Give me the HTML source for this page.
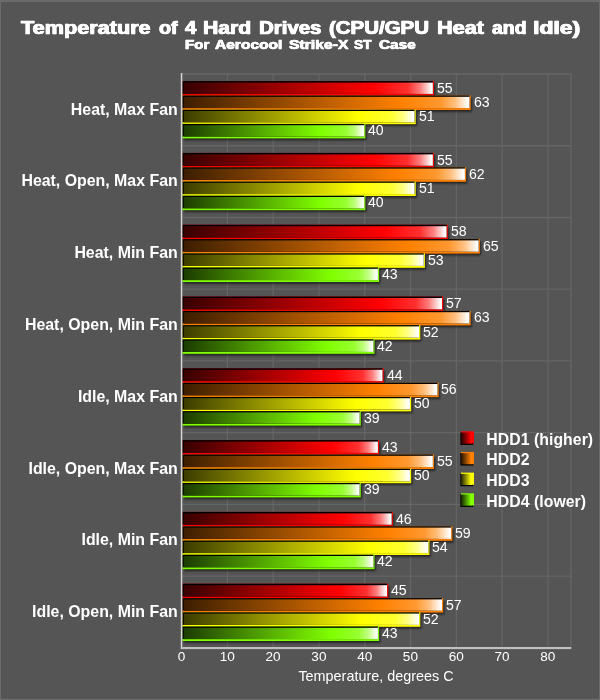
<!DOCTYPE html>
<html><head><meta charset="utf-8"><title>Temperature of 4 Hard Drives</title>
<style>
html,body{margin:0;padding:0}
body{width:600px;height:700px;overflow:hidden;background:#555;font-family:"Liberation Sans",sans-serif;color:#fff}
#c{position:relative;width:600px;height:700px;background:#555;overflow:hidden}
#c div,#c span,#c svg{position:absolute}
svg{left:0;top:0}
.w1,.w2{font-weight:bold;white-space:nowrap;transform-origin:0 0}
.w1{top:19.4px;font-size:18.6px;line-height:18.6px;-webkit-text-stroke:.6px #fff;text-shadow:.45px 0 0 #fff,-.45px 0 0 #fff}
.w2{top:38.6px;font-size:12px;line-height:12px;-webkit-text-stroke:.4px #fff;text-shadow:.3px 0 0 #fff,-.3px 0 0 #fff}
.cat{right:422.3px;width:200px;text-align:right;font-weight:bold;font-size:15.9px;line-height:18px;height:18px;white-space:nowrap}
.val{font-size:13.5px;line-height:16px;height:16px;white-space:nowrap;transform-origin:0 50%;transform:scale(1.045,1.06)}
.tk{font-size:13.6px;line-height:16px;height:16px;width:40px;text-align:center;top:649.2px}
.xt{left:226px;width:300px;text-align:center;top:667px;font-size:14.4px;line-height:18px;height:18px}
.lg{left:486.3px;letter-spacing:.05px;font-weight:bold;font-size:15.8px;line-height:18px;height:18px;white-space:nowrap}
</style></head><body><div id="c">
<svg width="600" height="700" viewBox="0 0 600 700">
<defs>
<linearGradient id="gr"><stop offset="0" stop-color="#380000"/><stop offset=".76" stop-color="#f00"/><stop offset=".90" stop-color="#ff3030"/><stop offset=".95" stop-color="#ff8080"/><stop offset=".995" stop-color="#fff"/></linearGradient>
<linearGradient id="go"><stop offset="0" stop-color="#3c1e00"/><stop offset=".76" stop-color="#ff8000"/><stop offset=".90" stop-color="#ff9830"/><stop offset=".95" stop-color="#ffc080"/><stop offset=".995" stop-color="#fff"/></linearGradient>
<linearGradient id="gy"><stop offset="0" stop-color="#3c3c00"/><stop offset=".76" stop-color="#ff0"/><stop offset=".90" stop-color="#ffff30"/><stop offset=".95" stop-color="#ffff80"/><stop offset=".995" stop-color="#fff"/></linearGradient>
<linearGradient id="gg"><stop offset="0" stop-color="#1c3c00"/><stop offset=".76" stop-color="#80ff00"/><stop offset=".90" stop-color="#98ff30"/><stop offset=".95" stop-color="#c0ff80"/><stop offset=".995" stop-color="#fff"/></linearGradient>
<linearGradient id="lr"><stop offset="0" stop-color="#200000"/><stop offset=".9" stop-color="#f00"/><stop offset="1" stop-color="#ff1818"/></linearGradient>
<linearGradient id="lo"><stop offset="0" stop-color="#201000"/><stop offset=".9" stop-color="#ff8000"/><stop offset="1" stop-color="#ff8c18"/></linearGradient>
<linearGradient id="ly"><stop offset="0" stop-color="#202000"/><stop offset=".9" stop-color="#ff0"/><stop offset="1" stop-color="#ffff18"/></linearGradient>
<linearGradient id="lg"><stop offset="0" stop-color="#102000"/><stop offset=".9" stop-color="#80ff00"/><stop offset="1" stop-color="#8cff18"/></linearGradient>
<filter id="sh2" x="-20%" y="-20%" width="140%" height="140%"><feGaussianBlur stdDeviation=".5"/></filter>
<filter id="sh" x="-5%" y="-30%" width="110%" height="160%"><feGaussianBlur stdDeviation="1"/></filter>
</defs>
<path d="M0 0H600V700H0Z M1 2V698.8H599V2Z" fill="#6b6b6b" fill-rule="evenodd"/>

<path d="M227.39 73.6V647.5 M273.18 73.6V647.5 M318.97 73.6V647.5 M364.76 73.6V647.5 M410.55 73.6V647.5 M456.34 73.6V647.5 M502.13 73.6V647.5 M547.92 73.6V647.5 M571.00 73.6V647.5 M181 74.00H571.2 M181 145.74H571.2 M181 217.48H571.2 M181 289.22H571.2 M181 360.96H571.2 M181 432.70H571.2 M181 504.44H571.2 M181 576.18H571.2" stroke="#656565" stroke-width="1.3" fill="none"/>
<rect x="184" y="83.60" width="251.24" height="14" fill="#000" opacity=".6" filter="url(#sh)"/>
<rect x="182.5" y="81.10" width="251.54" height="14.70" fill="#ff0000"/>
<rect x="182.5" y="81.10" width="250.34" height="12.80" fill="#000"/>
<rect x="183.8" y="82.60" width="249.04" height="11.3" fill="url(#gr)"/>
<rect x="184" y="97.80" width="287.88" height="14" fill="#000" opacity=".6" filter="url(#sh)"/>
<rect x="182.5" y="95.50" width="288.18" height="14.50" fill="#ff8000"/>
<rect x="182.5" y="95.50" width="286.98" height="12.60" fill="#000"/>
<rect x="183.8" y="96.80" width="285.68" height="11.3" fill="url(#go)"/>
<rect x="184" y="112.00" width="232.93" height="14" fill="#000" opacity=".6" filter="url(#sh)"/>
<rect x="182.5" y="109.70" width="233.23" height="14.50" fill="#ffff00"/>
<rect x="182.5" y="109.70" width="232.03" height="12.60" fill="#000"/>
<rect x="183.8" y="111.00" width="230.73" height="11.3" fill="url(#gy)"/>
<rect x="184" y="126.20" width="182.56" height="14" fill="#000" opacity=".6" filter="url(#sh)"/>
<rect x="182.5" y="123.90" width="182.86" height="14.50" fill="#80ff00"/>
<rect x="182.5" y="123.90" width="181.66" height="12.60" fill="#000"/>
<rect x="183.8" y="125.20" width="180.36" height="11.3" fill="url(#gg)"/>
<rect x="184" y="155.40" width="251.24" height="14" fill="#000" opacity=".6" filter="url(#sh)"/>
<rect x="182.5" y="152.90" width="251.54" height="14.70" fill="#ff0000"/>
<rect x="182.5" y="152.90" width="250.34" height="12.80" fill="#000"/>
<rect x="183.8" y="154.40" width="249.04" height="11.3" fill="url(#gr)"/>
<rect x="184" y="169.60" width="283.30" height="14" fill="#000" opacity=".6" filter="url(#sh)"/>
<rect x="182.5" y="167.30" width="283.60" height="14.50" fill="#ff8000"/>
<rect x="182.5" y="167.30" width="282.40" height="12.60" fill="#000"/>
<rect x="183.8" y="168.60" width="281.10" height="11.3" fill="url(#go)"/>
<rect x="184" y="183.80" width="232.93" height="14" fill="#000" opacity=".6" filter="url(#sh)"/>
<rect x="182.5" y="181.50" width="233.23" height="14.50" fill="#ffff00"/>
<rect x="182.5" y="181.50" width="232.03" height="12.60" fill="#000"/>
<rect x="183.8" y="182.80" width="230.73" height="11.3" fill="url(#gy)"/>
<rect x="184" y="198.00" width="182.56" height="14" fill="#000" opacity=".6" filter="url(#sh)"/>
<rect x="182.5" y="195.70" width="182.86" height="14.50" fill="#80ff00"/>
<rect x="182.5" y="195.70" width="181.66" height="12.60" fill="#000"/>
<rect x="183.8" y="197.00" width="180.36" height="11.3" fill="url(#gg)"/>
<rect x="184" y="227.20" width="264.98" height="14" fill="#000" opacity=".6" filter="url(#sh)"/>
<rect x="182.5" y="224.70" width="265.28" height="14.70" fill="#ff0000"/>
<rect x="182.5" y="224.70" width="264.08" height="12.80" fill="#000"/>
<rect x="183.8" y="226.20" width="262.78" height="11.3" fill="url(#gr)"/>
<rect x="184" y="241.40" width="297.03" height="14" fill="#000" opacity=".6" filter="url(#sh)"/>
<rect x="182.5" y="239.10" width="297.33" height="14.50" fill="#ff8000"/>
<rect x="182.5" y="239.10" width="296.13" height="12.60" fill="#000"/>
<rect x="183.8" y="240.40" width="294.83" height="11.3" fill="url(#go)"/>
<rect x="184" y="255.60" width="242.09" height="14" fill="#000" opacity=".6" filter="url(#sh)"/>
<rect x="182.5" y="253.30" width="242.39" height="14.50" fill="#ffff00"/>
<rect x="182.5" y="253.30" width="241.19" height="12.60" fill="#000"/>
<rect x="183.8" y="254.60" width="239.89" height="11.3" fill="url(#gy)"/>
<rect x="184" y="269.80" width="196.30" height="14" fill="#000" opacity=".6" filter="url(#sh)"/>
<rect x="182.5" y="267.50" width="196.60" height="14.50" fill="#80ff00"/>
<rect x="182.5" y="267.50" width="195.40" height="12.60" fill="#000"/>
<rect x="183.8" y="268.80" width="194.10" height="11.3" fill="url(#gg)"/>
<rect x="184" y="299.00" width="260.40" height="14" fill="#000" opacity=".6" filter="url(#sh)"/>
<rect x="182.5" y="296.50" width="260.70" height="14.70" fill="#ff0000"/>
<rect x="182.5" y="296.50" width="259.50" height="12.80" fill="#000"/>
<rect x="183.8" y="298.00" width="258.20" height="11.3" fill="url(#gr)"/>
<rect x="184" y="313.20" width="287.88" height="14" fill="#000" opacity=".6" filter="url(#sh)"/>
<rect x="182.5" y="310.90" width="288.18" height="14.50" fill="#ff8000"/>
<rect x="182.5" y="310.90" width="286.98" height="12.60" fill="#000"/>
<rect x="183.8" y="312.20" width="285.68" height="11.3" fill="url(#go)"/>
<rect x="184" y="327.40" width="237.51" height="14" fill="#000" opacity=".6" filter="url(#sh)"/>
<rect x="182.5" y="325.10" width="237.81" height="14.50" fill="#ffff00"/>
<rect x="182.5" y="325.10" width="236.61" height="12.60" fill="#000"/>
<rect x="183.8" y="326.40" width="235.31" height="11.3" fill="url(#gy)"/>
<rect x="184" y="341.60" width="191.72" height="14" fill="#000" opacity=".6" filter="url(#sh)"/>
<rect x="182.5" y="339.30" width="192.02" height="14.50" fill="#80ff00"/>
<rect x="182.5" y="339.30" width="190.82" height="12.60" fill="#000"/>
<rect x="183.8" y="340.60" width="189.52" height="11.3" fill="url(#gg)"/>
<rect x="184" y="370.80" width="200.88" height="14" fill="#000" opacity=".6" filter="url(#sh)"/>
<rect x="182.5" y="368.30" width="201.18" height="14.70" fill="#ff0000"/>
<rect x="182.5" y="368.30" width="199.98" height="12.80" fill="#000"/>
<rect x="183.8" y="369.80" width="198.68" height="11.3" fill="url(#gr)"/>
<rect x="184" y="385.00" width="255.82" height="14" fill="#000" opacity=".6" filter="url(#sh)"/>
<rect x="182.5" y="382.70" width="256.12" height="14.50" fill="#ff8000"/>
<rect x="182.5" y="382.70" width="254.92" height="12.60" fill="#000"/>
<rect x="183.8" y="384.00" width="253.62" height="11.3" fill="url(#go)"/>
<rect x="184" y="399.20" width="228.35" height="14" fill="#000" opacity=".6" filter="url(#sh)"/>
<rect x="182.5" y="396.90" width="228.65" height="14.50" fill="#ffff00"/>
<rect x="182.5" y="396.90" width="227.45" height="12.60" fill="#000"/>
<rect x="183.8" y="398.20" width="226.15" height="11.3" fill="url(#gy)"/>
<rect x="184" y="413.40" width="177.98" height="14" fill="#000" opacity=".6" filter="url(#sh)"/>
<rect x="182.5" y="411.10" width="178.28" height="14.50" fill="#80ff00"/>
<rect x="182.5" y="411.10" width="177.08" height="12.60" fill="#000"/>
<rect x="183.8" y="412.40" width="175.78" height="11.3" fill="url(#gg)"/>
<rect x="184" y="442.60" width="196.30" height="14" fill="#000" opacity=".6" filter="url(#sh)"/>
<rect x="182.5" y="440.10" width="196.60" height="14.70" fill="#ff0000"/>
<rect x="182.5" y="440.10" width="195.40" height="12.80" fill="#000"/>
<rect x="183.8" y="441.60" width="194.10" height="11.3" fill="url(#gr)"/>
<rect x="184" y="456.80" width="251.24" height="14" fill="#000" opacity=".6" filter="url(#sh)"/>
<rect x="182.5" y="454.50" width="251.54" height="14.50" fill="#ff8000"/>
<rect x="182.5" y="454.50" width="250.34" height="12.60" fill="#000"/>
<rect x="183.8" y="455.80" width="249.04" height="11.3" fill="url(#go)"/>
<rect x="184" y="471.00" width="228.35" height="14" fill="#000" opacity=".6" filter="url(#sh)"/>
<rect x="182.5" y="468.70" width="228.65" height="14.50" fill="#ffff00"/>
<rect x="182.5" y="468.70" width="227.45" height="12.60" fill="#000"/>
<rect x="183.8" y="470.00" width="226.15" height="11.3" fill="url(#gy)"/>
<rect x="184" y="485.20" width="177.98" height="14" fill="#000" opacity=".6" filter="url(#sh)"/>
<rect x="182.5" y="482.90" width="178.28" height="14.50" fill="#80ff00"/>
<rect x="182.5" y="482.90" width="177.08" height="12.60" fill="#000"/>
<rect x="183.8" y="484.20" width="175.78" height="11.3" fill="url(#gg)"/>
<rect x="184" y="514.40" width="210.03" height="14" fill="#000" opacity=".6" filter="url(#sh)"/>
<rect x="182.5" y="511.90" width="210.33" height="14.70" fill="#ff0000"/>
<rect x="182.5" y="511.90" width="209.13" height="12.80" fill="#000"/>
<rect x="183.8" y="513.40" width="207.83" height="11.3" fill="url(#gr)"/>
<rect x="184" y="528.60" width="269.56" height="14" fill="#000" opacity=".6" filter="url(#sh)"/>
<rect x="182.5" y="526.30" width="269.86" height="14.50" fill="#ff8000"/>
<rect x="182.5" y="526.30" width="268.66" height="12.60" fill="#000"/>
<rect x="183.8" y="527.60" width="267.36" height="11.3" fill="url(#go)"/>
<rect x="184" y="542.80" width="246.67" height="14" fill="#000" opacity=".6" filter="url(#sh)"/>
<rect x="182.5" y="540.50" width="246.97" height="14.50" fill="#ffff00"/>
<rect x="182.5" y="540.50" width="245.77" height="12.60" fill="#000"/>
<rect x="183.8" y="541.80" width="244.47" height="11.3" fill="url(#gy)"/>
<rect x="184" y="557.00" width="191.72" height="14" fill="#000" opacity=".6" filter="url(#sh)"/>
<rect x="182.5" y="554.70" width="192.02" height="14.50" fill="#80ff00"/>
<rect x="182.5" y="554.70" width="190.82" height="12.60" fill="#000"/>
<rect x="183.8" y="556.00" width="189.52" height="11.3" fill="url(#gg)"/>
<rect x="184" y="586.20" width="205.45" height="14" fill="#000" opacity=".6" filter="url(#sh)"/>
<rect x="182.5" y="583.70" width="205.75" height="14.70" fill="#ff0000"/>
<rect x="182.5" y="583.70" width="204.56" height="12.80" fill="#000"/>
<rect x="183.8" y="585.20" width="203.25" height="11.3" fill="url(#gr)"/>
<rect x="184" y="600.40" width="260.40" height="14" fill="#000" opacity=".6" filter="url(#sh)"/>
<rect x="182.5" y="598.10" width="260.70" height="14.50" fill="#ff8000"/>
<rect x="182.5" y="598.10" width="259.50" height="12.60" fill="#000"/>
<rect x="183.8" y="599.40" width="258.20" height="11.3" fill="url(#go)"/>
<rect x="184" y="614.60" width="237.51" height="14" fill="#000" opacity=".6" filter="url(#sh)"/>
<rect x="182.5" y="612.30" width="237.81" height="14.50" fill="#ffff00"/>
<rect x="182.5" y="612.30" width="236.61" height="12.60" fill="#000"/>
<rect x="183.8" y="613.60" width="235.31" height="11.3" fill="url(#gy)"/>
<rect x="184" y="628.80" width="196.30" height="14" fill="#000" opacity=".6" filter="url(#sh)"/>
<rect x="182.5" y="626.50" width="196.60" height="14.50" fill="#80ff00"/>
<rect x="182.5" y="626.50" width="195.40" height="12.60" fill="#000"/>
<rect x="183.8" y="627.80" width="194.10" height="11.3" fill="url(#gg)"/>
<rect x="180.8" y="73" width="1.5" height="576" fill="#d4d4d4"/>
<rect x="180.8" y="647" width="390.5" height="2.1" fill="#c0c0c0"/>
<rect x="460.3" y="432.30" width="13.2" height="12.6" fill="#000" opacity=".9" filter="url(#sh2)"/>
<rect x="461" y="431.30" width="13" height="12.3" fill="#ff0000"/>
<rect x="461" y="443.20" width="11.4" height="1.2" fill="#000"/>
<rect x="461" y="432.50" width="11" height="11.1" fill="url(#lr)"/>
<rect x="460.3" y="452.97" width="13.2" height="12.6" fill="#000" opacity=".9" filter="url(#sh2)"/>
<rect x="461" y="451.97" width="13" height="12.3" fill="#ff8000"/>
<rect x="461" y="463.87" width="11.4" height="1.2" fill="#000"/>
<rect x="461" y="453.17" width="11" height="11.1" fill="url(#lo)"/>
<rect x="460.3" y="473.64" width="13.2" height="12.6" fill="#000" opacity=".9" filter="url(#sh2)"/>
<rect x="461" y="472.64" width="13" height="12.3" fill="#ffff00"/>
<rect x="461" y="484.54" width="11.4" height="1.2" fill="#000"/>
<rect x="461" y="473.84" width="11" height="11.1" fill="url(#ly)"/>
<rect x="460.3" y="494.31" width="13.2" height="12.6" fill="#000" opacity=".9" filter="url(#sh2)"/>
<rect x="461" y="493.31" width="13" height="12.3" fill="#80ff00"/>
<rect x="461" y="505.21" width="11.4" height="1.2" fill="#000"/>
<rect x="461" y="494.51" width="11" height="11.1" fill="url(#lg)"/>
</svg>
<div class="w1" style="left:21.09px;transform:scaleX(1.165)">Temperature</div>
<div class="w1" style="left:158.73px;transform:scaleX(1.063)">of</div>
<div class="w1" style="left:185.27px;transform:scaleX(1.091)">4</div>
<div class="w1" style="left:203.4px;transform:scaleX(1.138)">Hard</div>
<div class="w1" style="left:258.68px;transform:scaleX(1.099)">Drives</div>
<div class="w1" style="left:329.45px;transform:scaleX(1.1)">(CPU/GPU</div>
<div class="w1" style="left:436.63px;transform:scaleX(1.164)">Heat</div>
<div class="w1" style="left:491.87px;transform:scaleX(1.043)">and</div>
<div class="w1" style="left:532.82px;transform:scaleX(1.236)">Idle)</div>
<div class="w2" style="left:185.03px;transform:scaleX(1.255)">For</div>
<div class="w2" style="left:214.84px;transform:scaleX(1.294)">Aerocool</div>
<div class="w2" style="left:288.59px;transform:scaleX(1.309)">Strike-X</div>
<div class="w2" style="left:353.61px;transform:scaleX(1.138)">ST</div>
<div class="w2" style="left:378.59px;transform:scaleX(1.278)">Case</div>
<div class="val" style="left:436.8px;top:80.8px">55</div>
<div class="val" style="left:473.5px;top:95.0px">63</div>
<div class="val" style="left:418.5px;top:109.2px">51</div>
<div class="val" style="left:368.2px;top:123.4px">40</div>
<div class="cat" style="top:100.5px">Heat, Max Fan</div>
<div class="val" style="left:436.8px;top:152.6px">55</div>
<div class="val" style="left:468.9px;top:166.8px">62</div>
<div class="val" style="left:418.5px;top:181.0px">51</div>
<div class="val" style="left:368.2px;top:195.2px">40</div>
<div class="cat" style="top:172.3px">Heat, Open, Max Fan</div>
<div class="val" style="left:450.6px;top:224.4px">58</div>
<div class="val" style="left:482.6px;top:238.6px">65</div>
<div class="val" style="left:427.7px;top:252.8px">53</div>
<div class="val" style="left:381.9px;top:267.0px">43</div>
<div class="cat" style="top:244.1px">Heat, Min Fan</div>
<div class="val" style="left:446.0px;top:296.2px">57</div>
<div class="val" style="left:473.5px;top:310.4px">63</div>
<div class="val" style="left:423.1px;top:324.6px">52</div>
<div class="val" style="left:377.3px;top:338.8px">42</div>
<div class="cat" style="top:315.9px">Heat, Open, Min Fan</div>
<div class="val" style="left:386.5px;top:368.0px">44</div>
<div class="val" style="left:441.4px;top:382.2px">56</div>
<div class="val" style="left:413.9px;top:396.4px">50</div>
<div class="val" style="left:363.6px;top:410.6px">39</div>
<div class="cat" style="top:387.7px">Idle, Max Fan</div>
<div class="val" style="left:381.9px;top:439.8px">43</div>
<div class="val" style="left:436.8px;top:454.0px">55</div>
<div class="val" style="left:413.9px;top:468.2px">50</div>
<div class="val" style="left:363.6px;top:482.4px">39</div>
<div class="cat" style="top:459.5px">Idle, Open, Max Fan</div>
<div class="val" style="left:395.6px;top:511.6px">46</div>
<div class="val" style="left:455.2px;top:525.8px">59</div>
<div class="val" style="left:432.3px;top:540.0px">54</div>
<div class="val" style="left:377.3px;top:554.2px">42</div>
<div class="cat" style="top:531.3px">Idle, Min Fan</div>
<div class="val" style="left:391.1px;top:583.4px">45</div>
<div class="val" style="left:446.0px;top:597.6px">57</div>
<div class="val" style="left:423.1px;top:611.8px">52</div>
<div class="val" style="left:381.9px;top:626.0px">43</div>
<div class="cat" style="top:603.1px">Idle, Open, Min Fan</div>
<div class="lg" style="top:430.6px">HDD1 (higher)</div>
<div class="lg" style="top:451.3px">HDD2</div>
<div class="lg" style="top:471.9px">HDD3</div>
<div class="lg" style="top:492.6px">HDD4 (lower)</div>
<div class="tk" style="left:161.5px">0</div>
<div class="tk" style="left:207.3px">10</div>
<div class="tk" style="left:253.1px">20</div>
<div class="tk" style="left:298.9px">30</div>
<div class="tk" style="left:344.7px">40</div>
<div class="tk" style="left:390.4px">50</div>
<div class="tk" style="left:436.2px">60</div>
<div class="tk" style="left:482.0px">70</div>
<div class="tk" style="left:527.8px">80</div>
<div class="xt">Temperature, degrees C</div>
</div></body></html>
